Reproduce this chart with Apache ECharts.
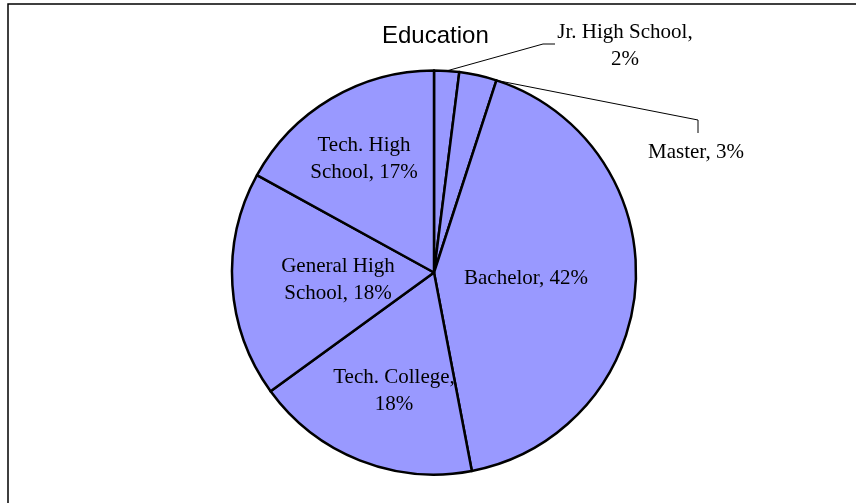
<!DOCTYPE html>
<html>
<head>
<meta charset="utf-8">
<title>Education</title>
<script src="https://cdn.jsdelivr.net/npm/echarts@6/dist/echarts.min.js"></script>
<style>
  html, body { margin: 0; padding: 0; background: #ffffff; }
  #chart { width: 856px; height: 503px; }
</style>
</head>
<body>
<div id="chart"></div>
<script>
// Education breakdown (percent of respondents), clockwise from 12 o'clock
const categories = ['Jr. High School', 'Master', 'Bachelor', 'Tech. College', 'General High School', 'Tech. High School'];
const shares = [2, 3, 42, 18, 18, 17];

// How each label's text is broken over lines
const labelText = {
  'Jr. High School': 'Jr. High School,\n{v}%',
  'Master': 'Master, {v}%',
  'Bachelor': 'Bachelor, {v}%',
  'Tech. College': 'Tech. College,\n{v}%',
  'General High School': 'General High\nSchool, {v}%',
  'Tech. High School': 'Tech. High\nSchool, {v}%'
};

// Pie geometry (px)
const CX = 434, CY = 272.5, R = 202;

// Label placement: centre of the text block, and for callouts the leader path
const labelPlace = {
  'Jr. High School': { x: 625, y: 46, anchor: 'mid', leader: [[543, 44], [555, 44]] },
  'Master': { x: 696, y: 152, anchor: 'end', leader: [[698, 120], [698, 133]] },
  'Bachelor': { x: 526, y: 278 },
  'Tech. College': { x: 394, y: 391 },
  'General High School': { x: 338, y: 280 },
  'Tech. High School': { x: 364, y: 159 }
};

const total = shares.reduce((a, b) => a + b, 0);

// point on the rim at a given fraction of the full turn (clockwise from top)
function rimPoint(frac) {
  const a = frac * 2 * Math.PI;
  return [CX + R * Math.sin(a), CY - R * Math.cos(a)];
}

function anchorPoint(idx, kind) {
  let before = 0;
  for (let i = 0; i < idx; i++) before += shares[i];
  const start = before / total, end = (before + shares[idx]) / total;
  return rimPoint(kind === 'end' ? end : (start + end) / 2);
}

const pieData = categories.map((name, i) => {
  const callout = !!labelPlace[name].leader;
  return {
    name: name,
    value: shares[i],
    label: { position: callout ? 'outside' : 'inside' },
    labelLine: { show: callout }
  };
});

const chart = echarts.init(document.getElementById('chart'), null, { renderer: 'canvas' });

chart.setOption({
  backgroundColor: '#ffffff',
  animation: false,
  title: {
    text: 'Education',
    left: 377,
    top: 19,
    textStyle: {
      fontFamily: 'Liberation Sans, Arial, sans-serif',
      fontSize: 24,
      fontWeight: 'normal',
      color: '#000000'
    }
  },
  graphic: [{
    type: 'rect',
    shape: { x: 8, y: 4, width: 900, height: 560 },
    style: { fill: 'none', stroke: '#000000', lineWidth: 1.5 },
    silent: true,
    z: 100
  }],
  series: [{
    type: 'pie',
    center: [CX, CY],
    radius: R,
    startAngle: 90,
    clockwise: true,
    avoidLabelOverlap: false,
    emphasis: { disabled: true },
    itemStyle: {
      color: '#9999ff',
      borderColor: '#000000',
      borderWidth: 2.5
    },
    label: {
      show: true,
      fontFamily: 'Liberation Serif, Times New Roman, serif',
      fontSize: 21,
      lineHeight: 27,
      color: '#000000',
      align: 'center',
      formatter: (p) => labelText[p.name].replace('{v}', p.value)
    },
    labelLine: {
      show: false,
      lineStyle: { color: '#000000', width: 1 }
    },
    labelLayout: (params) => {
      const name = categories[params.dataIndex];
      const place = labelPlace[name];
      const out = { x: place.x, y: place.y, align: 'center', verticalAlign: 'middle' };
      if (place.leader) {
        out.labelLinePoints = [anchorPoint(params.dataIndex, place.anchor)].concat(place.leader);
      }
      return out;
    },
    data: pieData
  }]
});
</script>
</body>
</html>
